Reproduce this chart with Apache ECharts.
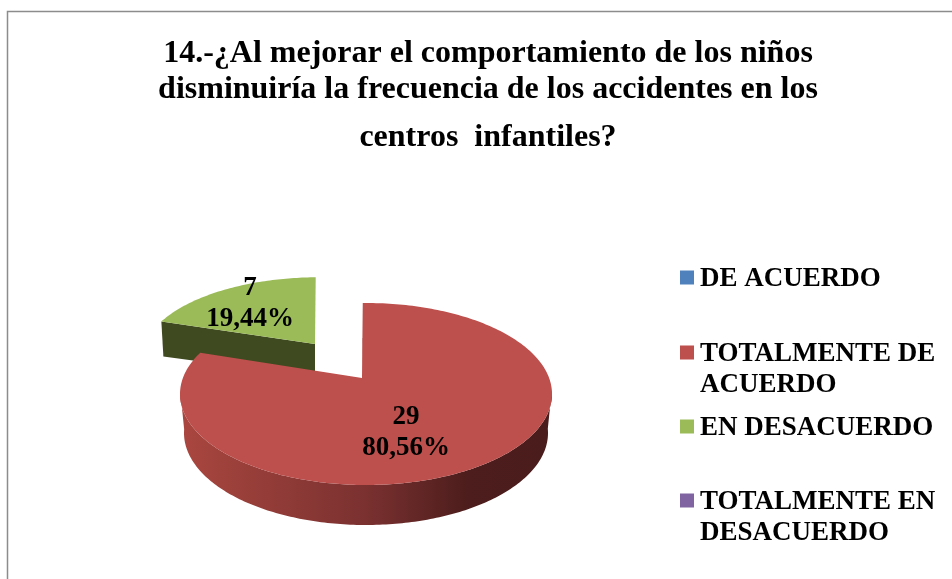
<!DOCTYPE html>
<html><head><meta charset="utf-8">
<style>html,body{margin:0;padding:0;background:#fff}#c{width:952px;height:579px}</style>
<script src="https://cdn.jsdelivr.net/npm/echarts@6/dist/echarts.min.js"></script>
</head><body><div id="c"></div>
<script>
const titleLines = ['14.-¿Al mejorar el comportamiento de los niños','disminuiría la frecuencia de los accidentes en los','centros  infantiles?'];
const categories = ['DE ACUERDO','TOTALMENTE DE ACUERDO','EN DESACUERDO','TOTALMENTE EN DESACUERDO'];
const legendLines = ['DE ACUERDO','TOTALMENTE DE\nACUERDO','EN DESACUERDO','TOTALMENTE EN\nDESACUERDO'];
const values = [0,29,7,0];
const percentLabels = ['0,00%','80,56%','19,44%','0,00%'];
const colors = ['#4F81BD','#BD4F4C','#9BBB59','#8064A2'];

const FONT = '"Liberation Serif","Times New Roman",serif';
const total = values.reduce((a,b)=>a+b,0);
// projected pie geometry
const G = {apexX:362,apexY:378,cx:366,cy:394,rx:186,ry:91,bcx:366,bcy:433,brx:182,bry:92};
// per-slice presentation (explosion, scale, label placement)
const sliceStyle = {
  1:{dx:0,dy:0,sx:1,sy:1,depth:0,labelX:406,labelY:433},
  2:{dx:-47,dy:-34,sx:0.95,sy:0.89,depth:33,labelX:250,labelY:304}
};
const rad = d=>d*Math.PI/180;
// perspective foreshortening of the pie angle onto the projected ellipse
const tOf = th=>th<=290 ? th*1.0276-1 : 297+(th-290)*62/70;
const rim = th=>{const t=rad(tOf(th));return [G.cx+G.rx*Math.sin(t),G.cy-G.ry*Math.cos(t)];};
const rimB = th=>{const t=rad(tOf(th));return [G.bcx+G.brx*Math.sin(t),G.bcy-G.bry*Math.cos(t)];};

function renderSlice(idx){
  return function(params,api){
    const v=api.value(0);
    if(!v) return {type:'group',children:[]};
    const start=values.slice(0,idx).reduce((a,b)=>a+b,0)/total*360;
    const end=start+v/total*360;
    const st=sliceStyle[idx];
    const ax=G.apexX+st.dx, ay=G.apexY+st.dy;
    const map=p=>[ax+(p[0]-G.apexX)*st.sx, ay+(p[1]-G.apexY)*st.sy];
    const top=[[ax,ay]];
    for(let a=start;a<end;a+=1) top.push(map(rim(a)));
    top.push(map(rim(end)));
    const children=[];
    if(idx===1){
      const wall=[]; const back=[];
      for(let a=Math.max(start,86);a<=Math.min(end,266);a+=1){wall.push(rim(a));back.unshift(rimB(a));}
      children.push({type:'polygon',shape:{points:wall.concat(back)},style:{fill:{type:'linear',x:G.bcx-G.brx,y:0,x2:G.bcx+G.brx,y2:0,global:true,
        colorStops:[{offset:0,color:'#A9463F'},{offset:0.5,color:'#7A3130'},{offset:0.78,color:'#4C1D1C'},{offset:1,color:'#4A1C1B'}]}}});
      const e=rim(start);
      children.push({type:'line',shape:{x1:ax+2,y1:ay,x2:e[0]+1,y2:e[1]+35},style:{stroke:'#4A1C1B',lineWidth:2}});
    } else {
      const a0=map(rim(start));
      children.push({type:'polygon',shape:{points:[a0,[ax,ay],[ax,ay+st.depth],[a0[0]+2,a0[1]+st.depth+2]]},style:{fill:'#3F4A20'}});
    }
    children.push({type:'polygon',shape:{points:top},style:{fill:colors[idx]}});
    children.push({type:'text',z2:10,style:{x:st.labelX,y:st.labelY,text:v+'\n'+percentLabels[idx],align:'center',verticalAlign:'middle',
      font:'bold 27px '+FONT,fill:'#000',lineHeight:31}});
    return {type:'group',children};
  };
}

const legendTops=[262,337,411,485];
// square swatch aligned with the first text line: a tiny speck extends the icon's box downwards
const iconOne='path://M0 0H14V14H0ZM0 18H0.01V18.01H0Z';
const iconTwo='path://M0 0H14V14H0ZM0 49H0.01V49.01H0Z';
const option={
  animation:false,
  backgroundColor:'#fff',
  title:titleLines.map((t,i)=>({text:t,left:488,textAlign:'center',top:[38,74,122][i],padding:0,
    textStyle:{fontFamily:FONT,fontWeight:'bold',fontSize:32,color:'#000'}})),
  legend:categories.map((c,i)=>{
    const two=legendLines[i].includes('\n');
    return {
      data:[{name:c,icon:two?iconTwo:iconOne,itemStyle:{color:colors[i]}}],
      left:680,top:legendTops[i],padding:0,orient:'vertical',selectedMode:false,
      itemWidth:14,itemHeight:two?49:18,itemGap:0,
      formatter:()=>legendLines[i],
      textStyle:{fontFamily:FONT,fontWeight:'bold',fontSize:27,color:'#000',lineHeight:31,padding:[4,0,0,1]}
    };
  }),
  graphic:[{type:'polyline',silent:true,shape:{points:[[7.5,579],[7.5,11.5],[952,11.5]]},style:{stroke:'#8C8C8C',lineWidth:1.5,fill:null}}],
  series:categories.map((c,i)=>({
    type:'custom',name:c,coordinateSystem:'none',z:i===2?2:3,
    itemStyle:{color:colors[i]},
    renderItem:renderSlice(i),
    data:[[values[i]]]
  }))
};
echarts.init(document.getElementById('c'),null,{renderer:'canvas'}).setOption(option);
</script></body></html>
